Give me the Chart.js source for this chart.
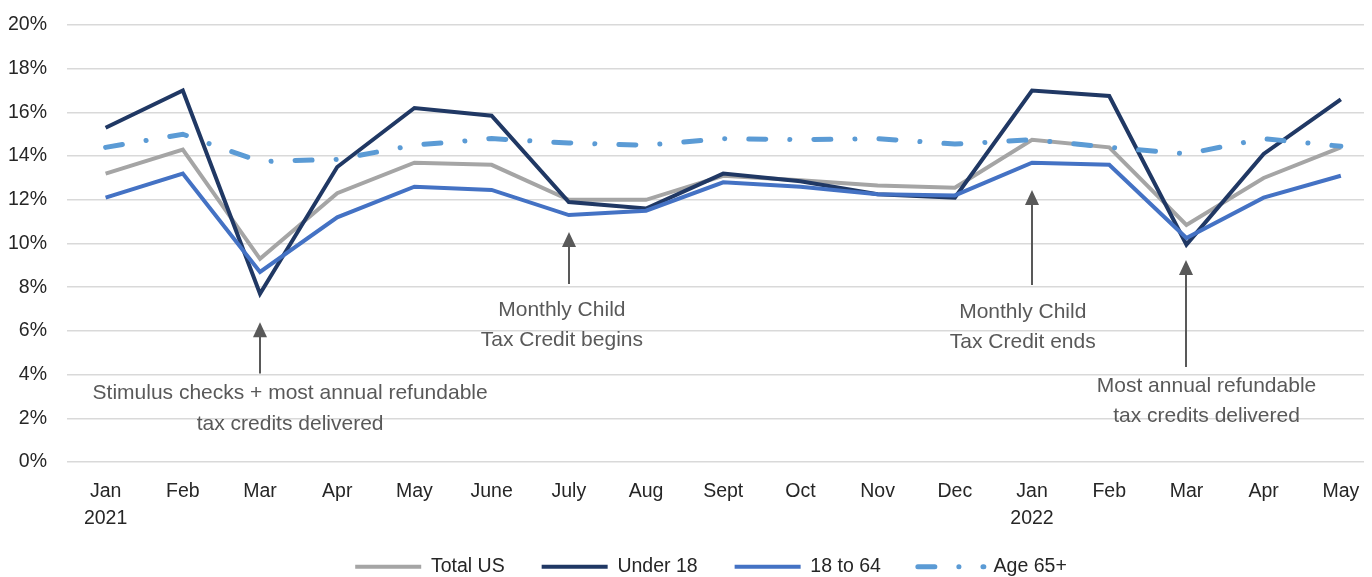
<!DOCTYPE html>
<html>
<head>
<meta charset="utf-8">
<script src="https://cdn.jsdelivr.net/npm/chart.js@4/dist/chart.umd.min.js"></script>
<style>
  html, body { margin: 0; padding: 0; background: #fff; }
  #wrap { width: 1372px; height: 577px; position: relative; }
</style>
</head>
<body>
<div id="wrap"><canvas id="povertyChart"></canvas></div>
<script>
// monthly poverty rate by age group, Jan 2021 - May 2022
var months = [['Jan', '2021'], 'Feb', 'Mar', 'Apr', 'May', 'June', 'July', 'Aug', 'Sept', 'Oct', 'Nov', 'Dec',
              ['Jan', '2022'], 'Feb', 'Mar', 'Apr', 'May'];
var totalUS  = [13.2, 14.3, 9.3, 12.3, 13.7, 13.6, 12.0, 12.0, 13.1, 12.9, 12.65, 12.55, 14.75, 14.4, 10.85, 13.0, 14.4];
var under18  = [15.3, 17.0, 7.7, 13.5, 16.2, 15.85, 11.9, 11.6, 13.2, 12.85, 12.25, 12.1, 17.0, 16.75, 9.95, 14.1, 16.6];
var age18to64 = [12.1, 13.2, 8.7, 11.2, 12.6, 12.45, 11.3, 11.5, 12.8, 12.6, 12.25, 12.2, 13.7, 13.6, 10.25, 12.1, 13.1];
var age65plus = [14.4, 15.0, 13.75, 13.85, 14.5, 14.8, 14.6, 14.5, 14.8, 14.75, 14.8, 14.55, 14.75, 14.4, 14.1, 14.8, 14.45];
var seriesNames = ['Total US', 'Under 18', '18 to 64', 'Age 65+'];

// annotation texts
var noteTexts = [
  ['Stimulus checks + most annual refundable', 'tax credits delivered'],
  ['Monthly Child', 'Tax Credit begins'],
  ['Monthly Child', 'Tax Credit ends'],
  ['Most annual refundable', 'tax credits delivered']
];

var FONT = "'Liberation Sans', Arial, sans-serif";
Chart.defaults.font.family = FONT;

// where each arrow / label sits, in data units (category index, percent)
var notePlaces = [
  { at: 2,  from: 4.05, to: 6.4,   textAt: 2.39,  lines: [3.16, 1.75] },
  { at: 6,  from: 8.15, to: 10.53, textAt: 5.91,  lines: [6.96, 5.58] },
  { at: 12, from: 8.1,  to: 12.45, textAt: 11.88, lines: [6.86, 5.49] },
  { at: 14, from: 4.35, to: 9.24,  textAt: 14.26, lines: [3.48, 2.1] }
];

var arrowNotes = {
  id: 'arrowNotes',
  afterLayout: function(chart) {
    // legend sits closer under the axis labels than its padding allows
    var lg = chart.legend;
    lg.top -= 12;
    lg.left += 29; lg.right += 29;
  },
  afterDatasetsDraw: function(chart) {
    var ctx = chart.ctx, xs = chart.scales.x, ys = chart.scales.y;
    ctx.save();
    ctx.strokeStyle = '#595959';
    ctx.fillStyle = '#595959';
    ctx.lineWidth = 2;
    notePlaces.forEach(function(n, i) {
      var x = Math.round(xs.getPixelForValue(n.at));
      var yBase = ys.getPixelForValue(n.from);
      var yTip = ys.getPixelForValue(n.to);
      ctx.beginPath();
      ctx.moveTo(x, yBase);
      ctx.lineTo(x, yTip + 12);
      ctx.stroke();
      ctx.beginPath();
      ctx.moveTo(x, yTip);
      ctx.lineTo(x - 7, yTip + 15);
      ctx.lineTo(x + 7, yTip + 15);
      ctx.closePath();
      ctx.fill();

      ctx.font = '21px ' + FONT;
      ctx.textAlign = 'center';
      ctx.textBaseline = 'middle';
      var tx = xs.getPixelForValue(n.textAt);
      noteTexts[i].forEach(function(line, j) {
        ctx.fillText(line, tx, ys.getPixelForValue(n.lines[j]));
      });
    });
    ctx.restore();
  }
};

var ctx = document.getElementById('povertyChart').getContext('2d');

var data = {
  labels: months,
  datasets: [{
    label: seriesNames[0],
    data: totalUS,
    borderColor: '#a5a5a5',
    backgroundColor: '#a5a5a5',
    borderWidth: 4,
    order: 4
  },
  {
    label: seriesNames[1],
    data: under18,
    borderColor: '#203864',
    backgroundColor: '#203864',
    borderWidth: 4,
    order: 3
  },
  {
    label: seriesNames[2],
    data: age18to64,
    borderColor: '#4472c4',
    backgroundColor: '#4472c4',
    borderWidth: 4,
    order: 2
  },
  {
    label: seriesNames[3],
    data: age65plus,
    borderColor: '#5b9bd5',
    backgroundColor: '#5b9bd5',
    borderWidth: 5,
    borderDash: [17, 24, 0.1, 24],
    borderCapStyle: 'round',
    order: 1
  }]
};

var options = {
  responsive: true,
  maintainAspectRatio: false,
  animation: false,
  layout: { padding: { top: 25, right: 8, bottom: 0, left: 0 } },
  elements: {
    point: { radius: 0, hoverRadius: 0 },
    line: { tension: 0, borderJoinStyle: 'miter' }
  },
  scales: {
    x: {
      offset: true,
      grid: { display: false },
      border: { display: false },
      ticks: { color: '#262626', font: { size: 19.5, lineHeight: 1.385 }, padding: 8, maxRotation: 0, autoSkip: false },
      afterBuildTicks: function(scale) {
        // first month sits half a step in, last one a little closer to the right edge
        scale._startValue = -0.5;
        scale._valueRange = 16.8;
      },
      afterFit: function(scale) { scale.height = 70; }
    },
    y: {
      min: 0,
      max: 20,
      border: { display: false },
      grid: { color: '#d9d9d9', lineWidth: 1.5, drawTicks: false },
      ticks: {
        stepSize: 2,
        color: '#262626',
        padding: 20,
        font: { size: 19.5 },
        callback: function(v) { return v + '%'; }
      },
      afterFit: function(scale) {
        scale.width = 67;
        scale.paddingTop = 0;
        scale.paddingBottom = 0;
      }
    }
  },
  plugins: {
    tooltip: { enabled: false },
    legend: {
      position: 'bottom',
      maxHeight: 45,
      labels: {
        usePointStyle: true,
        pointStyleWidth: 66,
        padding: 37,
        color: '#262626',
        font: { size: 19.5 },
        generateLabels: function(chart) {
          return chart.data.datasets.map(function(ds, i) {
            return {
              text: ds.label,
              fillStyle: ds.borderColor,
              strokeStyle: ds.borderColor,
              fontColor: '#262626',
              lineWidth: ds.borderWidth,
              lineDash: ds.borderDash || [],
              lineCap: ds.borderCapStyle || 'butt',
              pointStyle: 'line',
              hidden: false,
              datasetIndex: i
            };
          });
        }
      }
    }
  }
};

var config = {
  type: 'line',
  data: data,
  options: options,
  plugins: [arrowNotes]
};

var povertyChart = new Chart(ctx, config);
</script>
</body>
</html>
